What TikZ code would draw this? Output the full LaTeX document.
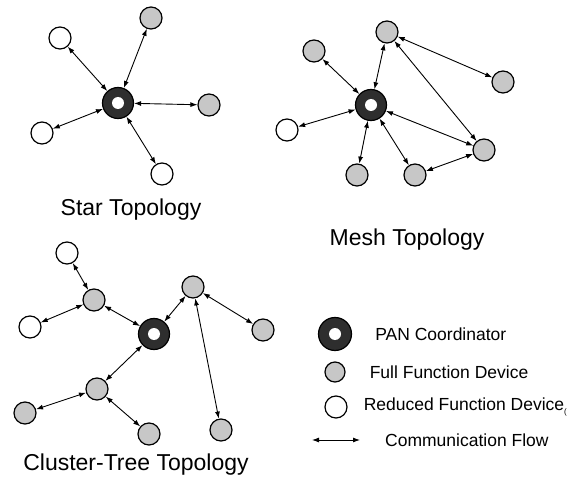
\documentclass[tikz,border=0pt]{standalone}
\usepackage{fontspec}
\setmainfont{Liberation Sans}
\usetikzlibrary{arrows.meta,positioning}

\begin{document}
\begin{tikzpicture}[
    x=1pt, y=-1pt,
    rfd/.style={circle, draw, line width=1.2pt, fill=white, minimum size=22pt, inner sep=0pt},
    ffd/.style={rfd, fill=black!22},
    pan/.style={circle, draw, line width=1.2pt, fill=black!82, minimum size=31pt, inner sep=0pt,
        path picture={\fill[white] (path picture bounding box.center) circle (6pt);}},
    flow/.style={{Latex[length=7pt,width=5pt]}-{Latex[length=7pt,width=5pt]}, line width=0.9pt},
    title/.style={font=\fontsize{23}{26}\selectfont, anchor=base},
    legtext/.style={font=\fontsize{17.5}{20}\selectfont, inner sep=1pt}
]
\useasboundingbox (0,0) rectangle (579,484);

% star topology
\node[pan] (sPan) at (118,103) {};
\node[rfd] (sTL) at (60,38) {};
\node[ffd] (sTR) at (151,18) {};
\node[ffd] (sR) at (209,105) {};
\node[rfd] (sL) at (42,133) {};
\node[rfd] (sB) at (162,174) {};
\draw[flow] (sPan) -- (sTL);
\draw[flow] (sPan) -- (sTR);
\draw[flow] (sPan) -- (sR);
\draw[flow] (sPan) -- (sL);
\draw[flow] (sPan) -- (sB);
\node[title] (starT) at (131,216) {Star Topology};

% mesh topology
\node[pan] (mPan) at (371,105) {};
\node[ffd] (mTop) at (387,32) {};
\node[ffd] (mUL) at (314,51) {};
\node[ffd] (mR) at (503,82) {};
\node[rfd] (mL) at (287,130) {};
\node[ffd] (mBL) at (357,175) {};
\node[ffd] (mBM) at (415,175) {};
\node[ffd] (mBR) at (484,150) {};
\draw[flow] (mPan) -- (mTop);
\draw[flow] (mPan) -- (mUL);
\draw[flow] (mPan) -- (mL);
\draw[flow] (mPan) -- (mBL);
\draw[flow] (mPan) -- (mBM);
\draw[flow] (mPan) -- (mBR);
\draw[flow] (mTop) -- (mR);
\draw[flow] (mTop) -- (mBR);
\draw[flow] (mBR) -- (mBM);
\node[title] (meshT) at (407,246) {Mesh Topology};

% cluster-tree topology
\node[pan] (cPan) at (154,334) {};
\node[rfd] (cTop) at (67,253) {};
\node[ffd] (cUp) at (94,300) {};
\node[rfd] (cL) at (30,327) {};
\node[ffd] (cRT) at (193,287) {};
\node[ffd] (cR) at (263,330) {};
\node[ffd] (cBR) at (221,430) {};
\node[ffd] (cLow) at (97,389) {};
\node[ffd] (cLL) at (25,413) {};
\node[ffd] (cB) at (149,434) {};
\draw[flow] (cTop) -- (cUp);
\draw[flow] (cUp) -- (cL);
\draw[flow] (cUp) -- (cPan);
\draw[flow] (cPan) -- (cRT);
\draw[flow] (cRT) -- (cR);
\draw[flow] (cRT) -- (cBR);
\draw[flow] (cPan) -- (cLow);
\draw[flow] (cLow) -- (cLL);
\draw[flow] (cLow) -- (cB);
\node[title] (treeT) at (136,470) {Cluster-Tree Topology};

% legend
\node[pan, minimum size=33pt] (legPan) at (335,334) {};
\node[ffd, minimum size=20pt] (legFfd) at (335,372) {};
\node[rfd] (legRfd) at (336,407) {};
\coordinate (flowL) at (312,440);
\coordinate (flowR) at (360,440);
\draw[flow] (flowL) -- (flowR);
\node[legtext, right=22pt of legPan] (panText) {PAN Coordinator};
\node[legtext, right=23pt of legFfd] (ffdText) {Full Function Device};
\node[legtext, right=15pt of legRfd] (rfdText) {Reduced Function Device\raisebox{-4pt}{\fontsize{8}{8}\selectfont(}};
\node[legtext, right=24pt of flowR] (flowText) {Communication Flow};
\end{tikzpicture}
\end{document}
